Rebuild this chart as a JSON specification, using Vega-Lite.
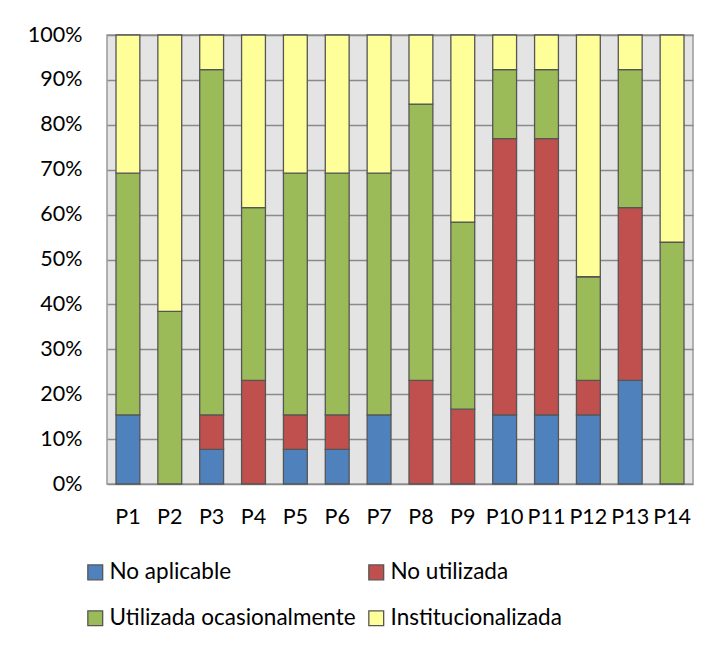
{
  "$schema": "https://vega.github.io/schema/vega-lite/v6.json",
  "width": 586,
  "height": 449,
  "autosize": {"type": "none"},
  "padding": {"left": 107, "top": 35, "right": 18, "bottom": 163},
  "background": "white",
  "data": {
    "values": [
      {"p": "P1", "cat": "No aplicable", "orden": 1, "n": 2},
      {"p": "P1", "cat": "Utilizada ocasionalmente", "orden": 3, "n": 7},
      {"p": "P1", "cat": "Institucionalizada", "orden": 4, "n": 4},
      {"p": "P2", "cat": "Utilizada ocasionalmente", "orden": 3, "n": 5},
      {"p": "P2", "cat": "Institucionalizada", "orden": 4, "n": 8},
      {"p": "P3", "cat": "No aplicable", "orden": 1, "n": 1},
      {"p": "P3", "cat": "No utilizada", "orden": 2, "n": 1},
      {"p": "P3", "cat": "Utilizada ocasionalmente", "orden": 3, "n": 10},
      {"p": "P3", "cat": "Institucionalizada", "orden": 4, "n": 1},
      {"p": "P4", "cat": "No utilizada", "orden": 2, "n": 3},
      {"p": "P4", "cat": "Utilizada ocasionalmente", "orden": 3, "n": 5},
      {"p": "P4", "cat": "Institucionalizada", "orden": 4, "n": 5},
      {"p": "P5", "cat": "No aplicable", "orden": 1, "n": 1},
      {"p": "P5", "cat": "No utilizada", "orden": 2, "n": 1},
      {"p": "P5", "cat": "Utilizada ocasionalmente", "orden": 3, "n": 7},
      {"p": "P5", "cat": "Institucionalizada", "orden": 4, "n": 4},
      {"p": "P6", "cat": "No aplicable", "orden": 1, "n": 1},
      {"p": "P6", "cat": "No utilizada", "orden": 2, "n": 1},
      {"p": "P6", "cat": "Utilizada ocasionalmente", "orden": 3, "n": 7},
      {"p": "P6", "cat": "Institucionalizada", "orden": 4, "n": 4},
      {"p": "P7", "cat": "No aplicable", "orden": 1, "n": 2},
      {"p": "P7", "cat": "Utilizada ocasionalmente", "orden": 3, "n": 7},
      {"p": "P7", "cat": "Institucionalizada", "orden": 4, "n": 4},
      {"p": "P8", "cat": "No utilizada", "orden": 2, "n": 3},
      {"p": "P8", "cat": "Utilizada ocasionalmente", "orden": 3, "n": 8},
      {"p": "P8", "cat": "Institucionalizada", "orden": 4, "n": 2},
      {"p": "P9", "cat": "No utilizada", "orden": 2, "n": 2},
      {"p": "P9", "cat": "Utilizada ocasionalmente", "orden": 3, "n": 5},
      {"p": "P9", "cat": "Institucionalizada", "orden": 4, "n": 5},
      {"p": "P10", "cat": "No aplicable", "orden": 1, "n": 2},
      {"p": "P10", "cat": "No utilizada", "orden": 2, "n": 8},
      {"p": "P10", "cat": "Utilizada ocasionalmente", "orden": 3, "n": 2},
      {"p": "P10", "cat": "Institucionalizada", "orden": 4, "n": 1},
      {"p": "P11", "cat": "No aplicable", "orden": 1, "n": 2},
      {"p": "P11", "cat": "No utilizada", "orden": 2, "n": 8},
      {"p": "P11", "cat": "Utilizada ocasionalmente", "orden": 3, "n": 2},
      {"p": "P11", "cat": "Institucionalizada", "orden": 4, "n": 1},
      {"p": "P12", "cat": "No aplicable", "orden": 1, "n": 2},
      {"p": "P12", "cat": "No utilizada", "orden": 2, "n": 1},
      {"p": "P12", "cat": "Utilizada ocasionalmente", "orden": 3, "n": 3},
      {"p": "P12", "cat": "Institucionalizada", "orden": 4, "n": 7},
      {"p": "P13", "cat": "No aplicable", "orden": 1, "n": 3},
      {"p": "P13", "cat": "No utilizada", "orden": 2, "n": 5},
      {"p": "P13", "cat": "Utilizada ocasionalmente", "orden": 3, "n": 4},
      {"p": "P13", "cat": "Institucionalizada", "orden": 4, "n": 1},
      {"p": "P14", "cat": "Utilizada ocasionalmente", "orden": 3, "n": 7},
      {"p": "P14", "cat": "Institucionalizada", "orden": 4, "n": 6}
    ]
  },
  "mark": {"type": "bar", "stroke": "#555555", "strokeWidth": 1.3},
  "encoding": {
    "x": {
      "field": "p",
      "type": "nominal",
      "sort": null,
      "scale": {"paddingInner": 0.43, "paddingOuter": 0.215},
      "axis": {
        "title": null,
        "labelAngle": 0,
        "labelFont": "Lato",
        "labelFontSize": 21.5,
        "labelColor": "#000000",
        "labelPadding": 22,
        "ticks": false,
        "domain": false,
        "grid": true,
        "bandPosition": 0.8,
        "gridColor": "#8c8497",
        "gridWidth": 1.5
      }
    },
    "y": {
      "field": "n",
      "type": "quantitative",
      "stack": "normalize",
      "scale": {"domain": [0, 1]},
      "axis": {
        "title": null,
        "values": [0, 0.1, 0.2, 0.3, 0.4, 0.5, 0.6, 0.7, 0.8, 0.9, 1],
        "format": ".0%",
        "labelFont": "Lato",
        "labelFontSize": 21.5,
        "labelColor": "#000000",
        "labelPadding": 25,
        "ticks": false,
        "domain": false,
        "grid": true,
        "gridColor": "#8a8a8a",
        "gridWidth": 1.5
      }
    },
    "order": {"field": "orden", "type": "quantitative"},
    "color": {
      "field": "cat",
      "type": "nominal",
      "scale": {
        "domain": ["No aplicable", "No utilizada", "Utilizada ocasionalmente", "Institucionalizada"],
        "range": ["#4F81BD", "#C0504D", "#9BBB59", "#FFFF99"]
      },
      "legend": {
        "title": null,
        "orient": "none",
        "legendX": -23,
        "legendY": 526,
        "direction": "horizontal",
        "columns": 2,
        "columnPadding": 9,
        "rowPadding": 23,
        "symbolType": "square",
        "symbolSize": 220,
        "symbolStrokeColor": "#555555",
        "symbolStrokeWidth": 1.3,
        "symbolOpacity": 1,
        "labelFont": "Lato",
        "labelFontSize": 22.5,
        "labelColor": "#000000",
        "labelOffset": 3,
        "labelLimit": 400
      }
    }
  },
  "config": {
    "view": {"fill": "#E4E4E4", "stroke": "#9a9a9a", "strokeWidth": 1.5}
  }
}
